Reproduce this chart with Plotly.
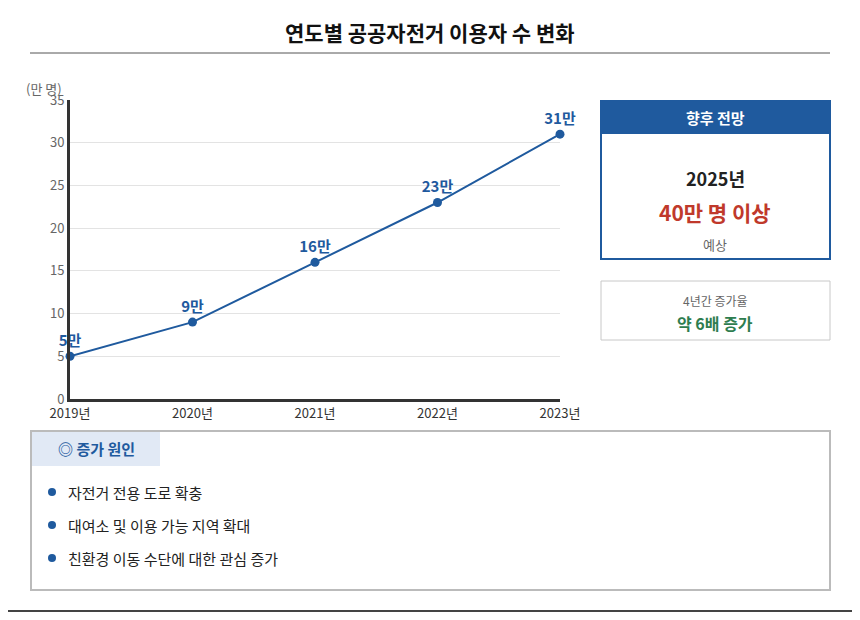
import plotly.graph_objects as go

years = [2019, 2020, 2021, 2022, 2023]
users = [5, 9, 16, 23, 31]
reasons = ["자전거 전용 도로 확충", "대여소 및 이용 가능 지역 확대", "친환경 이동 수단에 대한 관심 증가"]

FONT = "Noto Sans CJK KR"
BLUE = "#1f5a9e"

def px(x):
    return (x - 70) / 490

def py(y):
    return (399 - y) / 299

fig = go.Figure()
fig.add_trace(go.Scatter(x=years, y=users, mode="lines+markers+text",
                         line=dict(color=BLUE, width=2), marker=dict(size=9, color=BLUE),
                         text=["<b>" + str(u) + "만</b>" for u in users], textposition="top center",
                         textfont=dict(color=BLUE, size=15, family=FONT), cliponaxis=False))

shapes = []
def box(x0, y0, x1, y1, **kw):
    shapes.append(dict(type=kw.pop("type", "rect"), xref="paper", yref="paper",
                       x0=px(x0), x1=px(x1), y0=py(y1), y1=py(y0), **kw))

box(1, 1, 859, 611, line=dict(color="#444", width=2))  # outer frame
box(30, 53, 830, 53, type="line", line=dict(color="#555", width=1))
# forecast box
box(601, 101, 830, 259, line=dict(color=BLUE, width=2), fillcolor="white", layer="below")
box(601, 101, 830, 134, line=dict(width=0), fillcolor=BLUE, layer="below")
box(601, 281, 830, 340, line=dict(color="#c8c8c8", width=1))
# reasons box
box(31, 431, 830, 590, line=dict(color="#bbb", width=2))
box(32, 432, 160, 466, line=dict(width=0), fillcolor="#e1e9f5", layer="below")
for i in range(len(reasons)):
    yy = 492 + i * 33
    box(48, yy - 4, 56, yy + 4, type="circle", line=dict(width=0), fillcolor=BLUE)

ann = []
def text(x, y, s, size, color, bold=False, anchor="center"):
    ann.append(dict(x=px(x), y=py(y), xref="paper", yref="paper", text="<b>" + s + "</b>" if bold else s,
                    showarrow=False, xanchor=anchor, yanchor="middle",
                    font=dict(size=size, color=color, family=FONT)))

text(430, 32, "연도별 공공자전거 이용자 수 변화", 21, "#111", True)
text(44, 88, "(만 명)", 13, "#666")
text(715, 118, "향후 전망", 15, "white", True)
text(715, 178, "2025년", 18, "#222", True)
text(715, 212, "40만 명 이상", 21, "#c0392b", True)
text(715, 244, "예상", 13, "#666")
text(715, 300, "4년간 증가율", 12, "#666")
text(715, 323, "약 6배 증가", 16, "#2e7d4f", True)
text(96, 449, "◎ 증가 원인", 15, BLUE, True)
for i, r in enumerate(reasons):
    text(66, 492 + i * 33, r, 15, "#222", anchor="left")

fig.update_layout(width=860, height=620, plot_bgcolor="white", paper_bgcolor="white",
                  margin=dict(l=62, r=308, t=92, b=229), showlegend=False,
                  shapes=shapes, annotations=ann, font=dict(family=FONT))
fig.update_xaxes(range=[2019, 2023], tickvals=years, ticktext=[str(y) + "년" for y in years],
                 showgrid=False, showline=True, linecolor="#333", linewidth=3,
                 tickfont=dict(size=13, color="#333"))
fig.update_yaxes(range=[0, 35], dtick=5, showgrid=True, gridcolor="#e3e3e3", zeroline=False,
                 showline=True, linecolor="#333", linewidth=3, tickfont=dict(size=13, color="#666"))

fig.write_html("out.html")
